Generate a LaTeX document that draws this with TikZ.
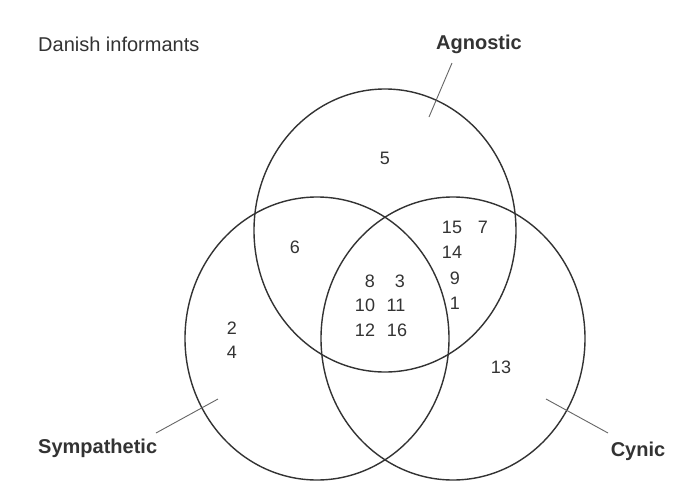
\documentclass[tikz,border=0pt]{standalone}
\usepackage{fontspec}
\setmainfont{Liberation Sans}
\begin{document}
\begin{tikzpicture}[x=1pt,y=-1pt,
  venn/.style={draw=black!80, line width=1.4pt},
  leader/.style={draw=black!60, line width=0.9pt},
  title/.style={text=black!80, font=\fontsize{20}{24}\selectfont, inner sep=0pt},
  setname/.style={text=black!80, font=\fontsize{20}{24}\selectfont\bfseries, inner sep=0pt},
  num/.style={text=black!80, font=\fontsize{18}{22}\selectfont, inner sep=0pt}]
\useasboundingbox (0,0) rectangle (691,480);
\clip (0,0) rectangle (691,480);
\fill[white] (0,0) rectangle (691,480);
% ellipses
\draw[venn] (385,230.5) ellipse [x radius=131, y radius=141.5];
\draw[venn] (317,338.5) ellipse [x radius=132, y radius=141.5];
\draw[venn] (453,338.5) ellipse [x radius=132, y radius=141.5];
% titles
\node[title, anchor=west] (danish) at (38,44) {Danish informants};
\node[setname] (agn) at (479,44) {Agnostic};
\node[setname, anchor=west] (sym) at (38,448) {Sympathetic};
\node[setname] (cyn) at (638,451) {Cynic};
% leader lines
\coordinate (agnA) at (452,63);
\coordinate (agnB) at (429,117);
\coordinate (symA) at (156,433);
\coordinate (symB) at (218,399);
\coordinate (cynA) at (608,433);
\coordinate (cynB) at (546,399);
\draw[leader] (agnA) -- (agnB);
\draw[leader] (symA) -- (symB);
\draw[leader] (cynA) -- (cynB);
% numbers
\node[num] (n5) at (385,158) {5};
\node[num] (n6) at (295,247) {6};
\node[num] (n15) at (452,227) {15};
\node[num] (n7) at (483,227) {7};
\node[num] (n14) at (452,252) {14};
\node[num] (n9) at (455,278) {9};
\node[num] (n1) at (455,303) {1};
\node[num] (n8) at (370,281) {8};
\node[num] (n3) at (400,281) {3};
\node[num] (n10) at (365,305) {10};
\node[num] (n11) at (396,305) {11};
\node[num] (n12) at (365,330) {12};
\node[num] (n16) at (397,330) {16};
\node[num] (n13) at (501,367) {13};
\node[num] (n2) at (232,328) {2};
\node[num] (n4) at (232,352) {4};
\end{tikzpicture}
\end{document}
